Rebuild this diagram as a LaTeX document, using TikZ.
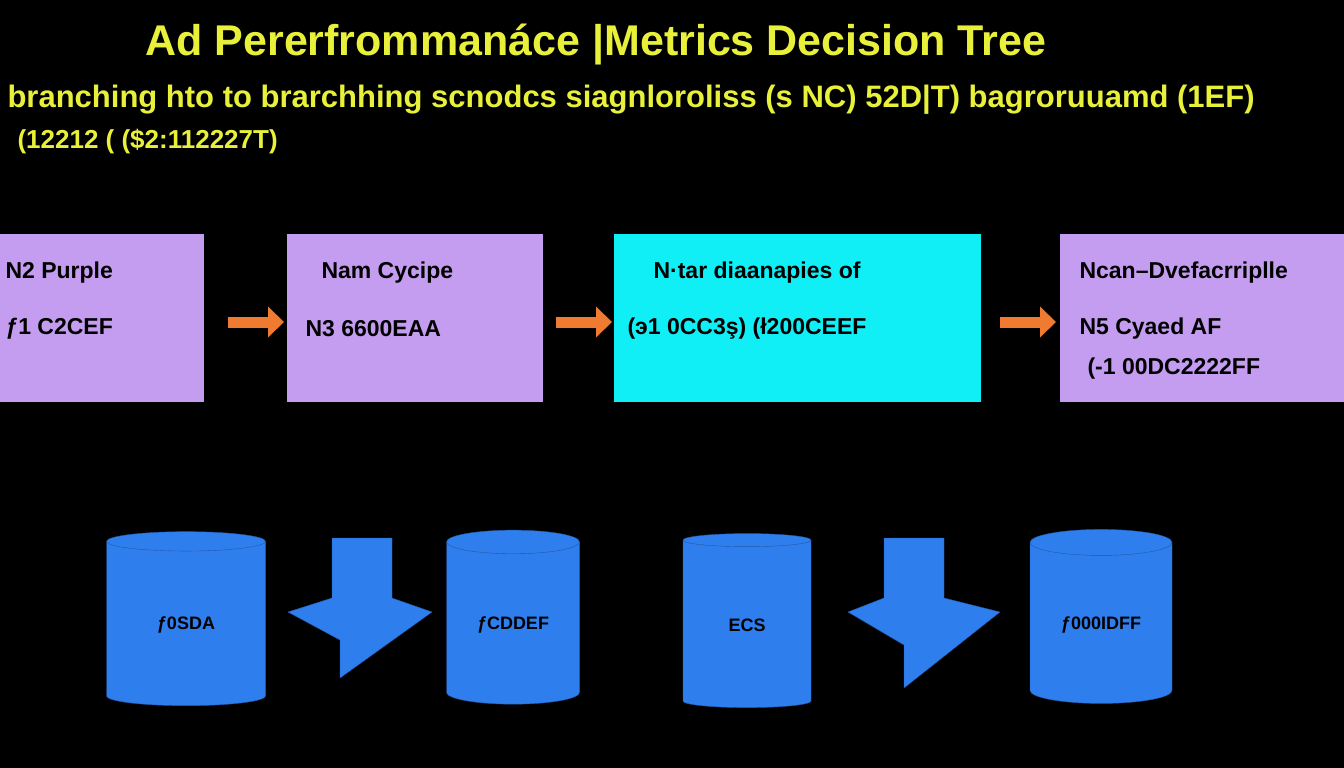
\documentclass[tikz,border=0pt]{standalone}
\usepackage{fontspec}
\setmainfont{Liberation Sans}
\usetikzlibrary{shapes.geometric,arrows.meta}
\definecolor{lav}{HTML}{C49CF0}
\definecolor{cy}{HTML}{10EEF6}
\definecolor{bl}{HTML}{2F7EEE}
\definecolor{yl}{HTML}{E8F03A}
\definecolor{org}{HTML}{F07A30}
\begin{document}
\begin{tikzpicture}[x=1pt,y=-1pt,
 box/.style={draw=none,minimum height=168pt,anchor=north west},
 txt/.style={font=\fontsize{23}{26}\selectfont\bfseries,anchor=west,text=black},
 oarr/.style={-{Triangle[length=16pt,width=30pt]},line width=11pt,org},
 cyl/.style={cylinder,shape border rotate=90,aspect=0.3,fill=bl,draw=bl!70!black,minimum height=174pt,anchor=center,font=\fontsize{18}{20}\selectfont\bfseries},
 barr/.style={fill=bl,draw=bl!70!black}]
\useasboundingbox (0,0) rectangle (1344,768);
\fill[black] (0,0) rectangle (1344,768);
\node[text=yl,font=\fontsize{43}{46}\selectfont\bfseries] (t) at (596,45) {Ad Pererfrommanáce |Metrics Decision Tree};
\node[text=yl,font=\fontsize{31}{34}\selectfont\bfseries,anchor=west] (s1) at (4,100) {branching hto to brarchhing scnodcs siagnloroliss (s NC) 52D|T) bagroruuamd (1EF)};
\node[text=yl,font=\fontsize{26}{30}\selectfont\bfseries,anchor=west] (s2) at (14,142) {(12212 ( (\$2:112227T)};
\node[box,fill=lav,minimum width=204pt] (b1) at (0,234) {};
\node[box,fill=lav,minimum width=256pt] (b2) at (287,234) {};
\node[box,fill=cy,minimum width=367pt] (b3) at (614,234) {};
\node[box,fill=lav,minimum width=284pt] (b4) at (1060,234) {};
\node[txt] (l1a) at (2,273) {N2 Purple};
\node[txt] (l1b) at (2,329) {ƒ1 C2CEF};
\node[txt] (l2a) at (318,273) {Nam Cycipe};
\node[txt] (l2b) at (302,329) {N3 6600EAA};
\node[txt] (l3a) at (650,273) {N·tar diaanapies of};
\node[txt] (l3b) at (624,329) {(э1 0CC3ş) (ł200CEEF};
\node[txt] (l4a) at (1076,273) {Ncan–Dvefacrriplle};
\node[txt] (l4b) at (1076,329) {N5 Cyaed AF};
\node[txt] (l4c) at (1084,369) {(-1 00DC2222FF};
\coordinate (a1s) at (228,322); \coordinate (a1e) at (284,322);
\coordinate (a2s) at (556,322); \coordinate (a2e) at (612,322);
\coordinate (a3s) at (1000,322); \coordinate (a3e) at (1056,322);
\draw[oarr] (a1s) -- (a1e);
\draw[oarr] (a2s) -- (a2e);
\draw[oarr] (a3s) -- (a3e);
\node[cyl,minimum width=159pt] (c1) at (186,625) {ƒ0SDA};
\node[cyl,minimum width=133pt] (c2) at (513,625) {ƒCDDEF};
\node[cyl,minimum width=128pt] (c3) at (747,625) {ECS};
\node[cyl,minimum width=142pt] (c4) at (1101,625) {ƒ000IDFF};
\draw[barr] (332,538)--(392,538)--(392,598)--(432,612)--(340,678)--(340,640)--(288,612)--(332,598)--cycle;
\draw[barr] (884,538)--(944,538)--(944,598)--(1000,612)--(904,688)--(904,645)--(848,612)--(884,598)--cycle;
\end{tikzpicture}
\end{document}
